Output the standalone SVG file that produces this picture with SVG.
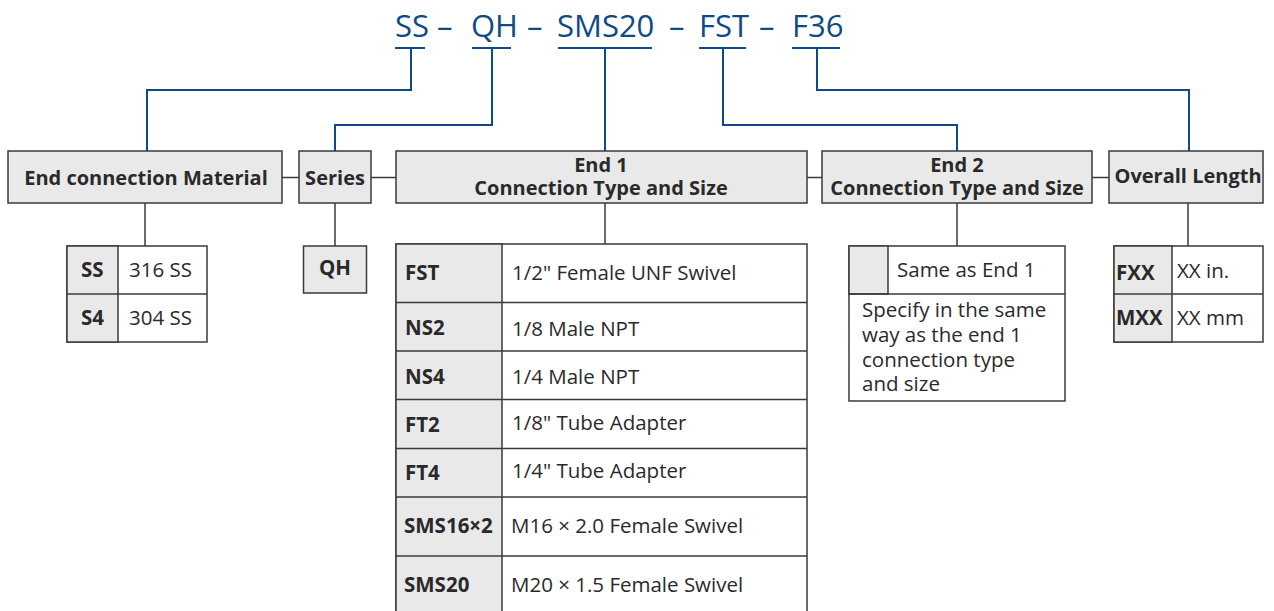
<svg xmlns="http://www.w3.org/2000/svg" width="1274" height="611" viewBox="0 0 1274 611">
<style>
  .hdr { fill: #e9e9e9; stroke: #3a3a3a; stroke-width: 1.5; }
  .cell { fill: #ffffff; stroke: #3a3a3a; stroke-width: 1.5; }
  .gcell { fill: #e9e9e9; stroke: #3a3a3a; stroke-width: 1.5; }
  .ln { fill: none; stroke: #3a3a3a; stroke-width: 1.5; }
  .bl { fill: none; stroke: #0e4a8a; stroke-width: 2; }
  text { font-family: "Open Sans", "Noto Sans", "Liberation Sans", sans-serif; fill: #2a2a2a; }
  .h { font-weight: bold; font-size: 20px; }
  .b { font-weight: bold; font-size: 20.5px; }
  .r { font-size: 20.5px; }
  .title { font-size: 31px; fill: #0e4a8a; }
</style>
<rect width="1274" height="611" fill="#ffffff"/>

<g id="title">
  <text class="title" y="37"><tspan x="395">SS</tspan><tspan x="437">–</tspan><tspan x="471">QH</tspan><tspan x="527">–</tspan><tspan x="557">SMS20</tspan><tspan x="669">–</tspan><tspan x="699">FST</tspan><tspan x="759">–</tspan><tspan x="792">F36</tspan></text>
</g>

<g id="connectors">
  <g class="bl">
    <line x1="395" y1="48" x2="425" y2="48"/>
    <line x1="472" y1="48" x2="511" y2="48"/>
    <line x1="558" y1="48" x2="652" y2="48"/>
    <line x1="699" y1="48" x2="746" y2="48"/>
    <line x1="792" y1="48" x2="840" y2="48"/>
    <polyline points="411,48 411,90 147,90 147,151"/>
    <polyline points="492,48 492,125 335,125 335,151"/>
    <polyline points="605,48 605,151"/>
    <polyline points="723,48 723,125 957,125 957,151"/>
    <polyline points="817,48 817,90 1189,90 1189,151"/>
  </g>
  <g class="ln">
    <line x1="282" y1="177.5" x2="299" y2="177.5"/>
    <line x1="371" y1="177.5" x2="396" y2="177.5"/>
    <line x1="807" y1="177.5" x2="822" y2="177.5"/>
    <line x1="1092" y1="177.5" x2="1109" y2="177.5"/>
    <line x1="145" y1="203" x2="145" y2="246"/>
    <line x1="335" y1="203" x2="335" y2="246"/>
    <line x1="605" y1="203" x2="605" y2="244"/>
    <line x1="957" y1="203" x2="957" y2="246"/>
    <line x1="1188" y1="203" x2="1188" y2="246"/>
  </g>
</g>

<g id="material">
  <rect class="hdr" x="8" y="151" width="274" height="52"/>
  <text class="h" x="146" y="185" text-anchor="middle">End connection Material</text>
</g>

<g id="series">
  <rect class="hdr" x="299" y="151" width="72" height="52"/>
  <text class="h" x="335" y="185" text-anchor="middle">Series</text>
</g>

<g id="end1">
  <rect class="hdr" x="396" y="151" width="411" height="52"/>
  <text class="h" x="601" y="172" text-anchor="middle">End 1</text>
  <text class="h" x="601" y="195" text-anchor="middle">Connection Type and Size</text>
</g>

<g id="end2">
  <rect class="hdr" x="822" y="151" width="270" height="52"/>
  <text class="h" x="957" y="172" text-anchor="middle">End 2</text>
  <text class="h" x="957" y="194.5" text-anchor="middle">Connection Type and Size</text>
</g>

<g id="length">
  <rect class="hdr" x="1109" y="151" width="154" height="52"/>
  <text class="h" x="1188" y="183" text-anchor="middle">Overall Length</text>
</g>

<g id="material-table">
  <rect class="cell" x="67" y="246" width="140" height="96"/>
  <rect class="gcell" x="67" y="246" width="51" height="96"/>
  <line class="ln" x1="67" y1="294" x2="207" y2="294"/>
  <text class="b" x="81" y="277">SS</text>
  <text class="r" x="129" y="277">316 SS</text>
  <text class="b" x="81" y="325">S4</text>
  <text class="r" x="129" y="325">304 SS</text>
</g>

<g id="series-table">
  <rect class="gcell" x="303.5" y="246" width="63" height="47"/>
  <text class="b" x="335" y="275" text-anchor="middle">QH</text>
</g>

<g id="end1-table">
  <rect class="cell" x="396" y="244" width="411" height="380"/>
  <rect class="gcell" x="396" y="244" width="106" height="380"/>
  <g class="ln">
    <line x1="396" y1="302.5" x2="807" y2="302.5"/>
    <line x1="396" y1="351" x2="807" y2="351"/>
    <line x1="396" y1="399.5" x2="807" y2="399.5"/>
    <line x1="396" y1="448.5" x2="807" y2="448.5"/>
    <line x1="396" y1="497" x2="807" y2="497"/>
    <line x1="396" y1="556" x2="807" y2="556"/>
  </g>
  <text class="b" x="405" y="280">FST</text>
  <text class="r" x="512" y="280">1/2" Female UNF Swivel</text>
  <text class="b" x="405" y="335">NS2</text>
  <text class="r" x="512" y="336">1/8 Male NPT</text>
  <text class="b" x="405" y="384">NS4</text>
  <text class="r" x="512" y="384">1/4 Male NPT</text>
  <text class="b" x="405" y="432">FT2</text>
  <text class="r" x="512" y="430">1/8" Tube Adapter</text>
  <text class="b" x="405" y="480">FT4</text>
  <text class="r" x="512" y="478">1/4" Tube Adapter</text>
  <text class="b" x="404" y="533">SMS16×2</text>
  <text class="r" x="511" y="533">M16 × 2.0  Female Swivel</text>
  <text class="b" x="404" y="592">SMS20</text>
  <text class="r" x="511" y="592">M20 × 1.5  Female Swivel</text>
</g>

<g id="end2-table">
  <rect class="cell" x="849" y="246" width="216" height="155"/>
  <rect class="gcell" x="849" y="246" width="39" height="48"/>
  <line class="ln" x1="849" y1="294" x2="1065" y2="294"/>
  <text class="r" x="897" y="277">Same as End 1</text>
  <text class="r" x="862" y="317">Specify in the same</text>
  <text class="r" x="862" y="342">way as the end 1</text>
  <text class="r" x="862" y="367">connection type</text>
  <text class="r" x="862" y="391">and size</text>
</g>

<g id="length-table">
  <rect class="cell" x="1114" y="246" width="149" height="96"/>
  <rect class="gcell" x="1114" y="246" width="58" height="96"/>
  <line class="ln" x1="1114" y1="294" x2="1263" y2="294"/>
  <text class="b" x="1116" y="280">FXX</text>
  <text class="r" x="1177" y="278">XX in.</text>
  <text class="b" x="1116" y="325">MXX</text>
  <text class="r" x="1177" y="325">XX mm</text>
</g>
</svg>
